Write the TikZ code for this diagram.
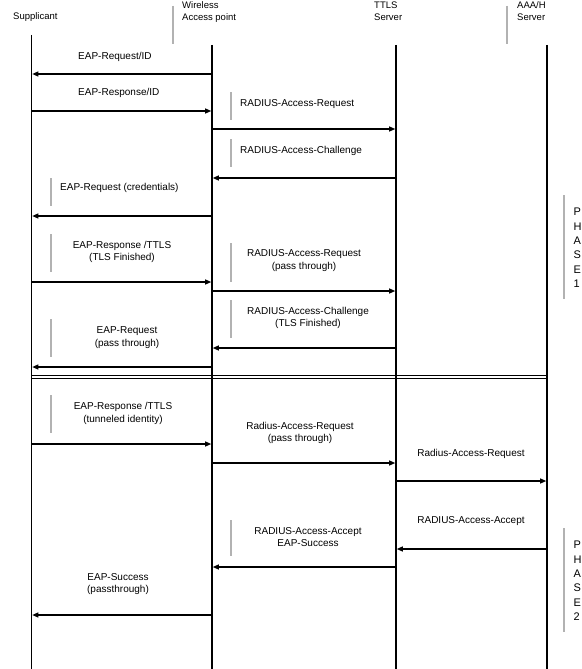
\documentclass[tikz,border=0pt]{standalone}
\usepackage{fontspec}
\setmainfont{Liberation Sans}
\usetikzlibrary{arrows.meta}
\begin{document}
\begin{tikzpicture}[x=1pt,y=-1pt,
  lifeline/.style={line width=1.6pt, black},
  grayrule/.style={line width=1.1pt, black!30},
  msg/.style={line width=1.1pt, black, -{Triangle[length=6pt,width=5pt]}, shorten >=0.8pt},
  dbl/.style={line width=0.9pt, black},
  lbl/.style={font=\fontsize{10}{12.5}\selectfont, inner sep=0pt, align=center},
  hdr/.style={font=\fontsize{9.5}{11.5}\selectfont, inner sep=0pt, anchor=base west, align=left},
  phase/.style={font=\fontsize{11}{14.4}\selectfont, inner sep=0pt, anchor=west, align=left},
]
\useasboundingbox (0,0) rectangle (581,669);
\fill[white] (0,0) rectangle (581,669);

% headers
\node[hdr] (hS) at (13,20) {Supplicant};
\node[hdr] (hA) at (182,20.5) {Wireless\\Access point};
\node[hdr] (hT) at (374,20.5) {TTLS\\Server};
\node[hdr] (hH) at (517,20.5) {AAA/H\\Server};
\draw[grayrule] (173,6) -- (173,44);
\draw[grayrule] (507,6) -- (507,44);

% lifelines
\coordinate (sT) at (31.5,35);  \coordinate (sB) at (31.5,669);
\coordinate (aT) at (212,45);   \coordinate (aB) at (212,669);
\coordinate (tT) at (396,45);   \coordinate (tB) at (396,669);
\coordinate (hT0) at (547,45);  \coordinate (hB) at (547,669);
\draw[lifeline] (sT) -- (sB);
\draw[lifeline] (aT) -- (aB);
\draw[lifeline] (tT) -- (tB);
\draw[lifeline] (hT0) -- (hB);

% message end points
\coordinate (m1a) at (212,74);   \coordinate (m1b) at (31.5,74);
\coordinate (m2a) at (31.5,111); \coordinate (m2b) at (212,111);
\coordinate (m3a) at (212,129);  \coordinate (m3b) at (396,129);
\coordinate (m4a) at (396,178);  \coordinate (m4b) at (212,178);
\coordinate (m5a) at (212,216);  \coordinate (m5b) at (31.5,216);
\coordinate (m6a) at (31.5,282); \coordinate (m6b) at (212,282);
\coordinate (m7a) at (212,291);  \coordinate (m7b) at (396,291);
\coordinate (m8a) at (396,348);  \coordinate (m8b) at (212,348);
\coordinate (m9a) at (212,367);  \coordinate (m9b) at (31.5,367);
\coordinate (m10a) at (31.5,444); \coordinate (m10b) at (212,444);
\coordinate (m11a) at (212,463);  \coordinate (m11b) at (396,463);
\coordinate (m12a) at (396,481);  \coordinate (m12b) at (547,481);
\coordinate (m13a) at (547,549);  \coordinate (m13b) at (396,549);
\coordinate (m14a) at (396,567);  \coordinate (m14b) at (212,567);
\coordinate (m15a) at (212,615);  \coordinate (m15b) at (31.5,615);

\foreach \i in {1,...,15} \draw[msg] (m\i a) -- (m\i b);

% phase separator (double line)
\coordinate (d1a) at (31.5,375); \coordinate (d1b) at (547,375);
\coordinate (d2a) at (31.5,378); \coordinate (d2b) at (547,378);
\draw[dbl] (d1a) -- (d1b);
\draw[dbl] (d2a) -- (d2b);

% gray marker bars
\draw[grayrule] (231,92) -- (231,120);
\draw[grayrule] (231,139) -- (231,167);
\draw[grayrule] (51,178) -- (51,206);
\draw[grayrule] (51,234) -- (51,272);
\draw[grayrule] (231,243) -- (231,282);
\draw[grayrule] (231,300) -- (231,338);
\draw[grayrule] (51,319) -- (51,357);
\draw[grayrule] (51,395) -- (51,433);
\draw[grayrule] (231,520) -- (231,556);
\draw[grayrule] (564,195) -- (564,299);
\draw[grayrule] (564,528) -- (564,632);

% labels
\node[lbl, anchor=base west] (l1) at (78,59.5) {EAP-Request/ID};
\node[lbl, anchor=base west] (l2) at (78,95.5) {EAP-Response/ID};
\node[lbl, anchor=base west] (l3) at (240,106.5) {RADIUS-Access-Request};
\node[lbl, anchor=base west] (l4) at (240,153.5) {RADIUS-Access-Challenge};
\node[lbl, anchor=base west] (l5) at (60,190.5) {EAP-Request (credentials)};
\node[lbl] (l6) at (122,252) {EAP-Response /TTLS\\(TLS Finished)};
\node[lbl] (l7) at (304,260.5) {RADIUS-Access-Request\\(pass through)};
\node[lbl] (l8) at (308,318) {RADIUS-Access-Challenge\\(TLS Finished)};
\node[lbl] (l9) at (127,337.5) {EAP-Request\\(pass through)};
\node[lbl] (l10) at (123,413.5) {EAP-Response /TTLS\\(tunneled identity)};
\node[lbl] (l11) at (300,433) {Radius-Access-Request\\(pass through)};
\node[lbl, anchor=base] (l12) at (471,456.5) {Radius-Access-Request};
\node[lbl, anchor=base] (l13) at (471,523.5) {RADIUS-Access-Accept};
\node[lbl] (l14) at (308,537) {RADIUS-Access-Accept\\EAP-Success};
\node[lbl] (l15) at (118,584) {EAP-Success\\(passthrough)};

% phase labels
\node[phase] (p1) at (573.5,248) {P\\H\\A\\S\\E\\1};
\node[phase] (p2) at (573.5,581) {P\\H\\A\\S\\E\\2};
\end{tikzpicture}
\end{document}
